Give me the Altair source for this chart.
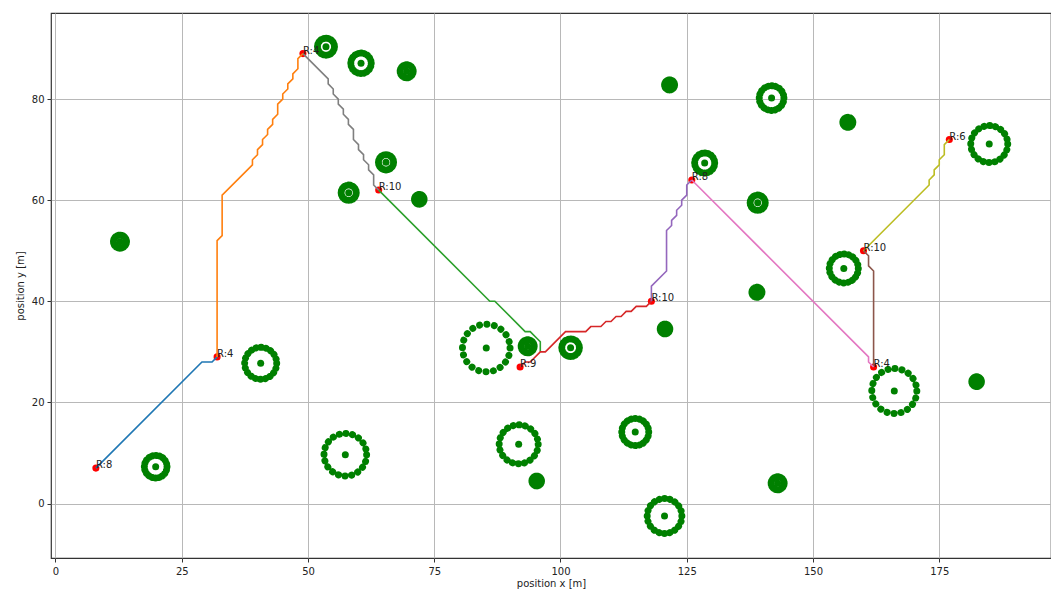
import math
import altair as alt
import pandas as pd

# Obstacles: centre x, centre y, ring radius (all metres)
obs_x = [12.77, 19.84, 40.63, 57.39, 91.72, 85.3, 93.5, 95.29, 53.56, 60.5, 69.54, 65.45, 58.06, 72.04, 121.6,
         141.8, 128.55, 139.05, 138.9, 120.7, 114.8, 120.6, 143.0, 166.1, 182.4, 156.9, 184.9, 156.1, 102.0]
obs_y = [51.8, 7.28, 27.73, 9.65, 11.71, 30.76, 31.1, 4.45, 90.37, 87.08, 85.5, 67.5, 61.48, 60.18, 82.8,
         80.2, 67.36, 59.5, 41.78, 34.52, 14.14, -2.47, 4.0, 22.25, 24.1, 75.4, 71.1, 46.5, 30.82]
obs_r = [1.29, 2.24, 3.17, 4.22, 3.86, 4.71, 1.29, 0.95, 1.68, 2.02, 1.29, 1.49, 1.49, 0.95, 0.99,
         2.44, 1.98, 1.49, 0.99, 0.95, 2.67, 3.43, 1.29, 4.46, 0.95, 0.99, 3.66, 2.87, 1.74]

# Waypoints and their labels
way_x = [8, 32, 49, 64, 92, 118, 126, 160, 162, 177]
way_y = [7, 29, 89, 62, 27, 40, 64, 50, 27, 72]
way_t = ["R:8", "R:4", "R:4", "R:10", "R:9", "R:10", "R:8", "R:10", "R:4", "R:6"]

# Route legs
p1x = [8, 29, 31, 32]
p1y = [7, 28, 28, 29]
p2x = [32, 32, 33, 33, 39, 39, 40, 40, 41, 41, 42, 42, 43, 43, 44, 44, 45, 45, 46, 46, 47, 47, 48, 48, 49]
p2y = [29, 52, 53, 61, 67, 68, 69, 70, 71, 72, 73, 74, 75, 76, 77, 79, 80, 81, 82, 83, 84, 85, 86, 88, 89]
p3x = [64, 86, 87, 93, 94, 96, 96]
p3y = [62, 40, 40, 34, 34, 32, 30]
p4x = [92, 93, 94, 96, 97, 101, 105, 106, 108, 109, 110, 111, 112, 113, 114, 115, 117, 118]
p4y = [27, 28, 28, 30, 30, 34, 34, 35, 35, 36, 36, 37, 37, 38, 38, 39, 39, 40]
p5x = [118, 118, 121, 121, 122, 122, 123, 123, 124, 124, 125, 125, 126]
p5y = [40, 43, 46, 54, 55, 56, 57, 58, 59, 60, 61, 63, 64]
p6x = [160, 161, 161, 162, 162]
p6y = [50, 49, 47, 46, 27]
p7x = [126, 161, 161, 162]
p7y = [64, 29, 28, 27]
p8x = [49, 54, 54, 55, 55, 56, 56, 57, 57, 58, 58, 59, 59, 60, 60, 61, 61, 62, 62, 63, 63, 64]
p8y = [89, 84, 83, 82, 81, 80, 79, 78, 77, 76, 75, 74, 72, 71, 70, 69, 68, 67, 66, 65, 63, 62]
p9x = [160, 173, 173, 174, 174, 175, 175, 176, 176, 177]
p9y = [50, 63, 64, 65, 66, 67, 68, 69, 71, 72]

paths = [(p1x, p1y), (p2x, p2y), (p3x, p3y), (p4x, p4y), (p5x, p5y), (p6x, p6y), (p7x, p7y), (p8x, p8y), (p9x, p9y)]
colors = ["#1f77b4", "#ff7f0e", "#2ca02c", "#d62728", "#9467bd", "#8c564b", "#e377c2", "#7f7f7f", "#bcbd22"]
x_ticks = [0, 25, 50, 75, 100, 125, 150, 175]
y_ticks = [0, 20, 40, 60, 80]

FONT = "DejaVu Sans"
PX_PER_M = 5.05
DOTS = 20

x_scale = alt.Scale(domain=[-0.89, 197.13], nice=False, zero=False)
y_scale = alt.Scale(domain=[-10.78, 97.03], nice=False, zero=False)

X = alt.X("x:Q", scale=x_scale, axis=alt.Axis(
    values=x_ticks, title="position x [m]", format="d", labelFont=FONT, titleFont=FONT,
    labelFontSize=10, titleFontSize=10, titleFontWeight="normal", labelColor="#222", titleColor="#222",
    gridColor="#b8b8b8", gridWidth=1, domain=False, tickColor="#333", tickSize=4, labelPadding=4,
    titlePadding=2, labelFlush=False))
Y = alt.Y("y:Q", scale=y_scale, axis=alt.Axis(
    values=y_ticks, title="position y [m]", format="d", labelFont=FONT, titleFont=FONT,
    labelFontSize=10, titleFontSize=10, titleFontWeight="normal", labelColor="#222", titleColor="#222",
    gridColor="#b8b8b8", gridWidth=1, domain=False, tickColor="#333", tickSize=4, labelPadding=3,
    titlePadding=6))

obs = pd.DataFrame({"x": obs_x, "y": obs_y, "r": obs_r, "id": [str(i) for i in range(len(obs_x))]})
dash = []
for r in obs_r:
    period = 2 * math.pi * r * PX_PER_M / DOTS
    dash.append([0.01, period - 0.01])

way = pd.DataFrame({"x": way_x, "y": way_y, "t": way_t})

rows = []
for k, (px, py) in enumerate(paths):
    for i, (a, b) in enumerate(zip(px, py)):
        rows.append({"x": a, "y": b, "leg": str(k), "i": i})
legs = pd.DataFrame(rows)

R_MAX = 5.0
rings = alt.Chart(obs).mark_point(
    filled=False, stroke="green", strokeWidth=7, strokeCap="round", opacity=1
).encode(
    x=X, y=Y,
    size=alt.Size("r:Q", legend=None, scale=alt.Scale(
        type="pow", exponent=2, domain=[0, R_MAX], range=[0, (2 * R_MAX * PX_PER_M) ** 2])),
    strokeDash=alt.StrokeDash("id:N", legend=None, scale=alt.Scale(
        domain=list(obs["id"]), range=dash)),
)
centres = alt.Chart(obs).mark_circle(color="green", size=49, opacity=1).encode(x=X, y=Y)
dots = alt.Chart(way).mark_circle(color="red", size=50, opacity=1).encode(x=X, y=Y)
lines = alt.Chart(legs).mark_line(strokeWidth=1.6, interpolate="linear").encode(
    x=X, y=Y, order="i:Q",
    color=alt.Color("leg:N", legend=None, scale=alt.Scale(
        domain=[str(i) for i in range(len(paths))], range=colors)),
)
labels = alt.Chart(way).mark_text(
    align="left", baseline="alphabetic", font=FONT, fontSize=10, color="#222"
).encode(x=X, y=Y, text="t:N")

chart = alt.layer(rings, centres, dots, lines, labels).resolve_scale(
    size="independent", strokeDash="independent", color="independent"
).properties(
    width=1000, height=545,
    autosize=alt.AutoSizeParams(type="none"),
    padding={"left": 43, "top": 5, "right": 0, "bottom": 32},
    background="white",
).configure_view(stroke="#333", strokeWidth=1.2)

chart.save("out.html", embed_options={"renderer": "svg", "actions": False})
